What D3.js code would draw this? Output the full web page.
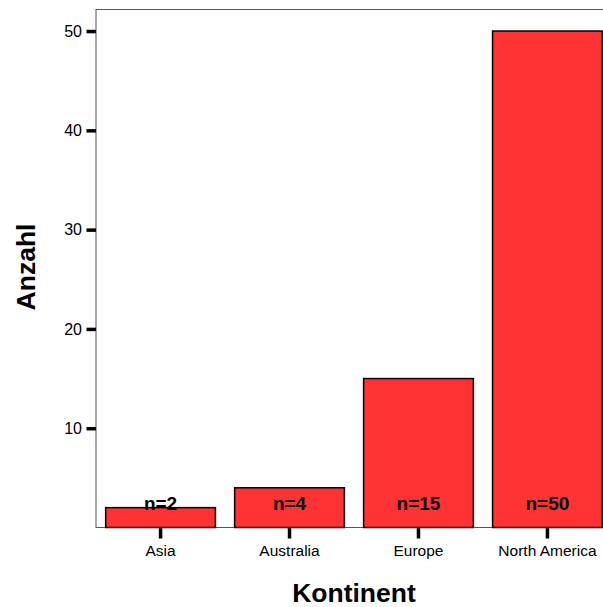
<!DOCTYPE html>
<html><head><meta charset="utf-8">
<script src="https://cdn.jsdelivr.net/npm/d3@7"></script>
<style>body{margin:0;background:#fff}svg{display:block}</style>
</head><body>
<script>
const categories = ["Asia", "Australia", "Europe", "North America"];
const counts = [2, 4, 15, 50];
const labels = ["n=2", "n=4", "n=15", "n=50"];
const yTicks = [10, 20, 30, 40, 50];

(function () {
const W = 603, H = 607;
const pLeft = 96, pRight = 612, pTop = 9.5, pBottom = 527.5;
const FONT = "'Liberation Sans', Arial, sans-serif";
const svg = d3.select("body").append("svg").attr("width", W).attr("height", H)
  .style("font-family", FONT);

const x = d3.scaleBand().domain(categories).range([pLeft, pRight]).paddingInner(0.149).paddingOuter(0.075);
const y = d3.scaleLinear().domain([0, 52.17]).range([pBottom, pTop]);

svg.append("rect").attr("x", pLeft).attr("y", pTop).attr("width", pRight - pLeft).attr("height", pBottom - pTop)
  .attr("fill", "none").attr("stroke", "#555").attr("stroke-width", 1);

svg.selectAll(".bar").data(categories).join("rect")
  .attr("x", d => x(d)).attr("width", x.bandwidth())
  .attr("y", (d, i) => y(counts[i])).attr("height", (d, i) => y(0) - y(counts[i]))
  .attr("fill", "#ff3333").attr("stroke", "#000").attr("stroke-width", 1.5);

svg.selectAll(".nl").data(categories).join("text")
  .attr("x", d => x(d) + x.bandwidth() / 2).attr("y", 509.5)
  .attr("text-anchor", "middle").attr("font-weight", "bold").attr("font-size", 19)
  .text((d, i) => labels[i]);

const ya = svg.append("g").attr("transform", `translate(${pLeft},0)`)
  .call(d3.axisLeft(y).tickValues(yTicks).tickSize(9.5).tickPadding(4.5).tickFormat(d3.format("d")));
ya.select(".domain").remove();
ya.selectAll(".tick line").attr("stroke", "#000").attr("stroke-width", 3.5);
ya.selectAll(".tick text").attr("font-size", 16).attr("fill", "#000").attr("font-family", FONT);

const xa = svg.append("g").attr("transform", `translate(0,${pBottom})`)
  .call(d3.axisBottom(x).tickSize(11).tickPadding(6));
xa.select(".domain").remove();
xa.selectAll(".tick line").attr("stroke", "#000").attr("stroke-width", 3.5);
xa.selectAll(".tick text").attr("font-size", 15.5).attr("fill", "#000").attr("font-family", FONT);

svg.append("text").attr("x", 354).attr("y", 602).attr("text-anchor", "middle")
  .attr("font-weight", "bold").attr("font-size", 26.5).text("Kontinent");
svg.append("text").attr("transform", "translate(35,267) rotate(-90)").attr("text-anchor", "middle")
  .attr("font-weight", "bold").attr("font-size", 26.5).text("Anzahl");
})();
</script>
</body></html>
